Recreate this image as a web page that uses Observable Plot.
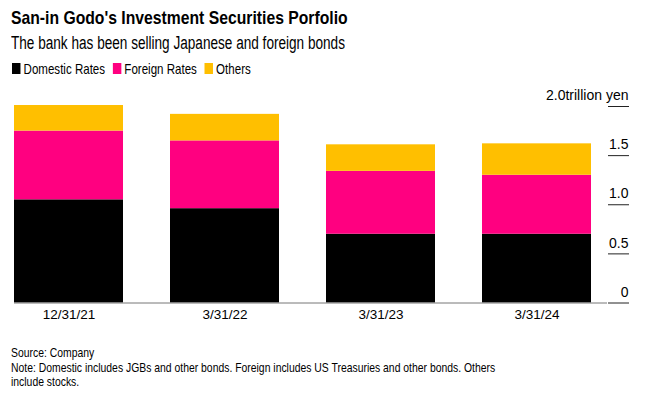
<!DOCTYPE html>
<html><head><meta charset="utf-8">
<script src="https://cdn.jsdelivr.net/npm/d3@7"></script>
<script src="https://cdn.jsdelivr.net/npm/@observablehq/plot@0.6"></script>
<style>
html,body{margin:0;padding:0;background:#fff}
body{position:relative;width:672px;height:399px;overflow:hidden;font-family:"Liberation Sans",Arial,sans-serif;color:#000}
.t{position:absolute;white-space:nowrap;transform-origin:left top}
#title{left:11px;top:7px;font-weight:bold;font-size:18.5px;transform:scaleX(0.85)}
#subtitle{left:11px;top:33px;font-size:18px;transform:scaleX(0.755)}
#legend{left:12px;top:60px;font-size:15px;display:flex;align-items:center;transform:scaleX(0.77)}
#legend span.sw{display:inline-block;width:11px;height:11px;margin-right:4px}
#legend span.lab{margin-right:10px}
#chart{position:absolute;left:0;top:80px}
#foot{left:11px;top:346px;font-size:13.5px;line-height:14.5px;white-space:normal;width:630px;transform:scaleX(0.77)}
</style></head>
<body>
<div id="title" class="t">San-in Godo's Investment Securities Porfolio</div>
<div id="subtitle" class="t">The bank has been selling Japanese and foreign bonds</div>
<div id="legend" class="t"></div>
<div id="chart"></div>
<div id="foot" class="t">Source: Company<br>Note: Domestic includes JGBs and other bonds. Foreign includes US Treasuries and other bonds. Others include stocks.</div>
<script>
const dates = ["12/31/21", "3/31/22", "3/31/23", "3/31/24"];
const series = ["Domestic Rates", "Foreign Rates", "Others"];
const domestic = [1.05, 0.96, 0.70, 0.70];
const foreign = [0.70, 0.69, 0.64, 0.60];
const others = [0.26, 0.27, 0.27, 0.32];
const colors = ["#000000", "#ff0080", "#ffbf00"];
const yTicks = [0, 0.5, 1.0, 1.5, 2.0];

const vals = [domestic, foreign, others];
const rows = [];
series.forEach((s, i) => dates.forEach((d, j) => rows.push({date: d, series: s, value: vals[i][j]})));

const leg = document.getElementById("legend");
series.forEach((s, i) => {
  const sw = document.createElement("span"); sw.className = "sw"; sw.style.background = colors[i];
  const lab = document.createElement("span"); lab.className = "lab"; lab.textContent = s;
  leg.appendChild(sw); leg.appendChild(lab);
});

const chart = Plot.plot({
  width: 672, height: 245,
  marginLeft: 14, marginRight: 65, marginTop: 26, marginBottom: 22.5,
  style: {fontFamily: '"Liberation Sans", Arial, sans-serif', color: "#000", background: "#fff"},
  x: {domain: dates, range: [14, 592], paddingInner: 0.3, paddingOuter: 0, label: null},
  y: {domain: [0, 2], label: null},
  color: {domain: series, range: colors},
  marks: [
    Plot.barY(rows, {x: "date", y: "value", fill: "series"}),
    Plot.ruleY([0], {stroke: "#777", strokeWidth: 1}),
    Plot.axisX({tickSize: 0, tickPadding: 6, fontSize: 13.5, fill: "#000"}),
    Plot.axisY(yTicks, {anchor: "right", tickSize: 21, tickPadding: 0, textAnchor: "end", lineAnchor: "bottom", lineHeight: 0.45,
      fontSize: 14, fill: "#000", stroke: "#222",
      tickFormat: d => (d === 2 ? "2.0trillion yen" : d === 0 ? "0" : d.toFixed(1)) + "\n"})
  ]
});
document.getElementById("chart").appendChild(chart);
</script>
</body></html>
